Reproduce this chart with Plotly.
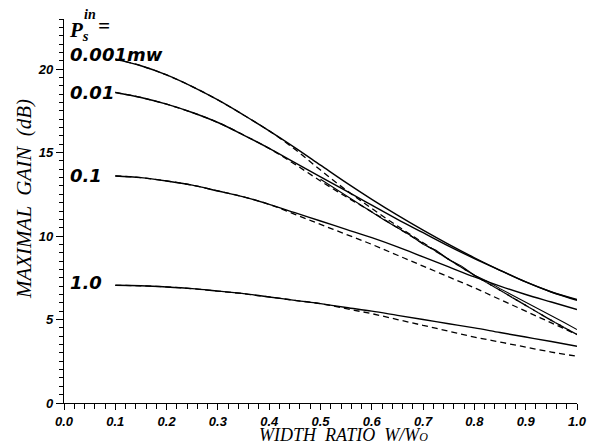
import plotly.graph_objects as go

# ---------------- data ----------------
width_ratio = [0.1, 0.15, 0.2, 0.25, 0.3, 0.35, 0.4, 0.45, 0.5, 0.55,
               0.6, 0.65, 0.7, 0.75, 0.8, 0.85, 0.9, 0.95, 1.0]

gain_0001_solid = [20.6, 20.2, 19.65, 18.95, 18.15, 17.25, 16.3, 15.3, 14.25, 13.2,
                   12.2, 11.25, 10.35, 9.5, 8.7, 7.95, 7.25, 6.65, 6.2]
gain_001_solid = [18.6, 18.3, 17.9, 17.4, 16.8, 16.05, 15.25, 14.4, 13.55, 12.7,
                  11.85, 11.0, 10.2, 9.4, 8.65, 7.95, 7.25, 6.65, 6.15]
gain_01_solid = [13.6, 13.5, 13.3, 13.05, 12.7, 12.35, 11.9, 11.4, 10.9, 10.4,
                 9.9, 9.35, 8.75, 8.15, 7.55, 7.0, 6.5, 6.05, 5.6]
gain_1_solid = [7.05, 7.02, 6.95, 6.85, 6.7, 6.55, 6.35, 6.15, 5.95, 5.72,
                5.5, 5.25, 5.0, 4.75, 4.5, 4.22, 3.95, 3.68, 3.4]

gain_0001_dashed = [20.6, 20.2, 19.65, 18.95, 18.15, 17.25, 16.3, 15.2, 13.95, 12.75,
                    11.65, 10.6, 9.6, 8.6, 7.65, 6.75, 5.85, 4.95, 4.1]
gain_001_dashed = [18.6, 18.3, 17.9, 17.4, 16.8, 16.05, 15.25, 14.3, 13.3, 12.35,
                   11.45, 10.5, 9.55, 8.6, 7.65, 6.75, 5.85, 4.95, 4.1]
gain_01_dashed = [13.6, 13.5, 13.3, 13.05, 12.7, 12.35, 11.9, 11.3, 10.7, 10.1,
                  9.5, 8.85, 8.2, 7.55, 6.9, 6.2, 5.5, 4.8, 4.1]
gain_1_dashed = [7.05, 7.02, 6.95, 6.85, 6.7, 6.55, 6.35, 6.15, 5.95, 5.65,
                 5.35, 5.0, 4.65, 4.3, 3.95, 3.65, 3.35, 3.05, 2.8]

# extra (noisy) solid curve in the upper group
wavy_ratio = [0.5, 0.525, 0.55, 0.575, 0.6, 0.625, 0.65, 0.675, 0.7, 0.725,
              0.75, 0.775, 0.8, 0.825, 0.85, 0.875, 0.9, 0.925, 0.95, 0.975, 1.0]
wavy_gain = [13.4, 12.9, 12.4, 11.95, 11.45, 10.95, 10.5, 10.05, 9.5, 9.15,
             8.6, 8.2, 7.65, 7.3, 6.85, 6.45, 6.05, 5.62, 5.2, 4.82, 4.4]

power_labels = ["0.001<i>mw</i>", "0.01", "0.1", "1.0"]
label_gain = [20.85, 18.6, 13.65, 7.2]

x_major = 0.1
x_minor = 0.02
y_major = 5
y_minor = 0.5

# ---------------- figure ----------------
fig = go.Figure()

solid_style = dict(color="black", width=1.4)
dash_style = dict(color="black", width=1.3, dash="6px,4px")

for ys in [gain_0001_solid, gain_001_solid, gain_01_solid, gain_1_solid]:
    fig.add_trace(go.Scatter(x=width_ratio, y=ys, mode="lines",
                             line=dict(**solid_style, shape="spline"),
                             showlegend=False, hoverinfo="skip"))
for ys in [gain_0001_dashed, gain_001_dashed, gain_01_dashed, gain_1_dashed]:
    fig.add_trace(go.Scatter(x=width_ratio, y=ys, mode="lines",
                             line=dict(**dash_style, shape="spline"),
                             showlegend=False, hoverinfo="skip"))
fig.add_trace(go.Scatter(x=wavy_ratio, y=wavy_gain, mode="lines",
                         line=dict(color="black", width=1.1),
                         showlegend=False, hoverinfo="skip"))

label_font = dict(family="DejaVu Sans", size=18, color="black",
                  style="italic", weight="bold")
for txt, g in zip(power_labels, label_gain):
    fig.add_annotation(x=0.0, y=g, xref="x", yref="y", text=txt,
                       showarrow=False, xanchor="left", yanchor="middle",
                       xshift=4, font=label_font)

# P_s^in = label
serif_font = dict(family="Liberation Serif", size=21, color="black",
                  style="italic", weight="bold")
fig.add_annotation(x=0.0, y=0.968, xref="x", yref="paper",
                   text="P<sub>s</sub>",
                   showarrow=False, xanchor="left", yanchor="middle",
                   xshift=3, font=serif_font)
fig.add_annotation(x=0.0, y=1.012, xref="x", yref="paper", text="in",
                   showarrow=False, xanchor="left", yanchor="middle",
                   xshift=18, font=dict(serif_font, size=14))
fig.add_annotation(x=0.0, y=0.982, xref="x", yref="paper", text="=",
                   showarrow=False, xanchor="left", yanchor="middle",
                   xshift=32, font=dict(serif_font, size=21))

tick_font = dict(family="Liberation Sans", size=13, color="black",
                 style="italic", weight="bold")
title_font = dict(family="Liberation Serif", size=18, color="black",
                  style="italic")

fig.update_xaxes(range=[0, 1.0], tickmode="linear", tick0=0, dtick=x_major,
                 tickformat=".1f", automargin=False,
                 ticks="outside", ticklen=6, tickwidth=1.2, tickcolor="black",
                 showline=True, linecolor="black", linewidth=1.3,
                 showgrid=False, zeroline=False, tickfont=tick_font,
                 minor=dict(tickmode="linear", tick0=0, dtick=x_minor,
                            ticks="outside", ticklen=5,
                            tickwidth=1, tickcolor="black", showgrid=False))
fig.update_yaxes(range=[0, 23.0], tickmode="linear", tick0=0, dtick=y_major,
                 automargin=False,
                 ticks="outside", ticklen=7, tickwidth=1.2, tickcolor="black",
                 showline=True, linecolor="black", linewidth=1.3,
                 showgrid=False, zeroline=False, tickfont=tick_font,
                 minor=dict(tickmode="linear", tick0=0, dtick=y_minor,
                            ticks="outside", ticklen=4,
                            tickwidth=1, tickcolor="black", showgrid=False))

# axis titles as annotations for exact placement
fig.add_annotation(x=0.544, y=-0.083, xref="paper", yref="paper",
                   text="WIDTH  RATIO  W/W<span style='font-size:12px'>O</span>",
                   showarrow=False, xanchor="center", yanchor="middle",
                   font=title_font)
fig.add_annotation(x=-0.078, y=0.531, xref="paper", yref="paper",
                   text="MAXIMAL  GAIN  (dB)", textangle=-90,
                   showarrow=False, xanchor="center", yanchor="middle",
                   font=dict(title_font, size=21))

fig.update_layout(width=589, height=444,
                  margin=dict(l=64, r=12, t=19, b=41),
                  paper_bgcolor="white", plot_bgcolor="white")

# remove the default page margin so the figure sits at the window origin
fig.write_html("out.html",
               config={"displayModeBar": False},
               post_script="document.body.style.margin='0';"
                           "document.body.style.overflow='hidden';")
